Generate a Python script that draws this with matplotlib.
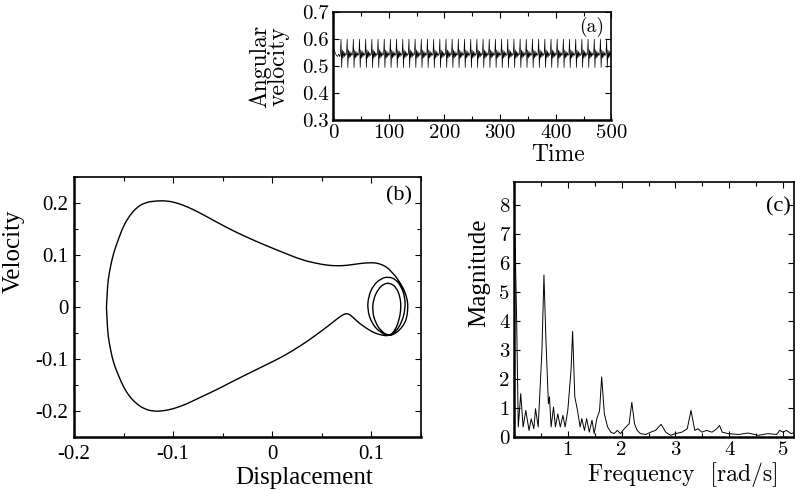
import numpy as np
import matplotlib
matplotlib.use("Agg")
import matplotlib.pyplot as plt
from matplotlib.path import Path
from matplotlib.patches import PathPatch
from matplotlib.ticker import MultipleLocator, FormatStrFormatter

plt.rcParams['axes.unicode_minus'] = False
plt.rcParams['font.family'] = ['Liberation Serif', 'DejaVu Serif']

# (a) angular velocity: start-up part, then one measured cycle repeated
transient_t = [0, 2, 4, 6, 8, 10, 12]
transient_v = [0.570, 0.560, 0.548, 0.540, 0.536, 0.545, 0.535]
cycle_dt = [0.0, 1.2, 2.4, 3.6, 4.8, 6.0, 7.2, 8.4, 9.6]
cycle_v = [0.545, 0.600, 0.495, 0.560, 0.530, 0.555, 0.535, 0.550, 0.540]
period = 11.1
n_cycles = 44

# (b) phase portrait, points read along the trajectory
disp = [-0.1672, -0.1665, -0.1655, -0.163, -0.160, -0.155, -0.150, -0.144, -0.137, -0.128, -0.117,
        -0.106, -0.096, -0.085, -0.073, -0.056, -0.039, -0.022, -0.005, 0.012,
        0.029, 0.044, 0.056, 0.066, 0.076, 0.086, 0.096, 0.104, 0.110, 0.116, 0.120, 0.124, 0.127, 0.131,
        0.134, 0.1365, 0.1368, 0.136, 0.134, 0.130, 0.125, 0.118,
        0.108, 0.100, 0.096, 0.097, 0.102, 0.110, 0.117, 0.124, 0.130, 0.134, 0.134, 0.131, 0.125, 0.118,
        0.110, 0.104, 0.101, 0.102, 0.107, 0.113, 0.119, 0.125, 0.129, 0.130, 0.128, 0.124, 0.118,
        0.110, 0.103, 0.095, 0.087, 0.081, 0.077, 0.073, 0.068, 0.062, 0.056, 0.049, 0.039, 0.029, 0.012, -0.005,
        -0.022, -0.039, -0.056, -0.073, -0.087, -0.100, -0.111, -0.120, -0.129, -0.137, -0.144, -0.150,
        -0.155, -0.160, -0.163, -0.1655, -0.1665, -0.1672]
vel = [0.000, 0.027, 0.053, 0.079, 0.104, 0.131, 0.156, 0.175, 0.191, 0.201, 0.204,
       0.204, 0.200, 0.192, 0.181, 0.163, 0.146, 0.131, 0.117, 0.104,
       0.091, 0.084, 0.080, 0.079, 0.080, 0.083, 0.085, 0.085, 0.082, 0.076, 0.068, 0.060, 0.052, 0.040,
       0.028, 0.012, -0.002, -0.017, -0.030, -0.041, -0.050, -0.056,
       -0.048, -0.030, -0.005, 0.020, 0.042, 0.055, 0.058, 0.054, 0.040, 0.018, -0.005, -0.028, -0.047, -0.056,
       -0.047, -0.030, -0.008, 0.015, 0.035, 0.045, 0.046, 0.038, 0.020, -0.002, -0.025, -0.045, -0.056,
       -0.054, -0.050, -0.041, -0.030, -0.019, -0.013, -0.013, -0.019, -0.028, -0.037, -0.047, -0.061, -0.074, -0.094, -0.110,
       -0.126, -0.142, -0.159, -0.174, -0.187, -0.196, -0.200, -0.2005, -0.196, -0.186, -0.172, -0.154,
       -0.132, -0.108, -0.083, -0.057, -0.029, 0.000]

# (c) spectrum
freq = [0.0, 0.02, 0.05, 0.08, 0.126, 0.17, 0.22, 0.28, 0.32, 0.37, 0.40, 0.45,
        0.52, 0.557, 0.595, 0.64, 0.66, 0.69, 0.735, 0.77, 0.815, 0.86, 0.91, 0.95, 1.0,
        1.06, 1.09, 1.13, 1.18, 1.23, 1.26, 1.31, 1.35, 1.40, 1.45, 1.49, 1.54,
        1.59, 1.63, 1.68, 1.74, 1.80, 1.86, 1.92, 1.98, 2.05, 2.14, 2.19, 2.24,
        2.29, 2.35, 2.45, 2.54, 2.63, 2.735, 2.82, 2.91, 3.0, 3.12, 3.22, 3.29, 3.36,
        3.42, 3.49, 3.58, 3.68, 3.77, 3.82, 3.87, 3.98, 4.17, 4.35, 4.54, 4.72, 4.88,
        4.94, 5.0, 5.06, 5.15, 5.2]
mag = [7.0, 6.9, 4.0, 0.35, 1.5, 0.35, 0.92, 0.23, 0.63, 0.29, 0.98, 0.35,
       3.0, 5.6, 3.3, 1.15, 1.39, 0.35, 1.04, 0.35, 0.8, 0.35, 0.75, 0.35, 0.92,
       2.3, 3.65, 1.4, 0.92, 0.35, 0.64, 0.23, 0.64, 0.17, 0.58, 0.12, 0.64,
       0.9, 2.08, 0.8, 0.35, 0.17, 0.12, 0.23, 0.12, 0.29, 0.46, 1.2, 0.46,
       0.23, 0.12, 0.09, 0.17, 0.23, 0.44, 0.17, 0.06, 0.12, 0.17, 0.29, 0.92, 0.23,
       0.29, 0.17, 0.23, 0.17, 0.29, 0.40, 0.17, 0.12, 0.09, 0.14, 0.06, 0.12, 0.09,
       0.23, 0.17, 0.23, 0.12, 0.15]

fig = plt.figure(figsize=(7.95, 4.9), dpi=100)

def style_axes(ax):
    ax.tick_params(which='both', direction='in', top=True, right=True, width=0.8)
    ax.tick_params(which='major', length=4)
    ax.tick_params(which='minor', length=3)
    for s in ['left', 'bottom']:
        ax.spines[s].set_linewidth(1.8)
    for s in ['top', 'right']:
        ax.spines[s].set_linewidth(1.2)

def smooth_path(xs, ys):
    # quadratic bezier through midpoints, read points used as control points
    pts = np.column_stack([xs, ys])
    verts = [pts[0]]
    codes = [Path.MOVETO]
    for i in range(1, len(pts) - 1):
        mid = (pts[i] + pts[i + 1]) / 2
        verts += [pts[i], mid]
        codes += [Path.CURVE3, Path.CURVE3]
    verts.append(pts[-1])
    codes.append(Path.LINETO)
    return Path(verts, codes)

# ---- (a)
ax1 = fig.add_axes([0.419, 0.755, 0.350, 0.220])
t = list(transient_t)
v = list(transient_v)
for k in range(n_cycles):
    for dt, val in zip(cycle_dt, cycle_v):
        tt = 13 + k * period + dt
        if tt <= 500:
            t.append(tt)
            v.append(val)
ax1.plot(t, v, color='black', lw=0.5)
ax1.set_xlim(0, 500)
ax1.set_ylim(0.3, 0.7)
ax1.xaxis.set_major_locator(MultipleLocator(100))
ax1.xaxis.set_minor_locator(MultipleLocator(50))
ax1.yaxis.set_major_locator(MultipleLocator(0.1))
ax1.yaxis.set_major_formatter(FormatStrFormatter('%.1f'))
style_axes(ax1)
ax1.tick_params(labelsize=15, labelfontfamily='cmr10', pad=3)
ax1.set_ylabel('Angular\nvelocity', family='cmr10', fontsize=17, linespacing=0.8)
ax1.yaxis.set_label_coords(-0.155, 0.5)
ax1.set_xlabel('Time', family='cmr10', fontsize=17)
ax1.xaxis.set_label_coords(0.81, -0.22)
ax1.text(0.975, 0.96, '(a)', transform=ax1.transAxes, ha='right', va='top', family='cmr10', fontsize=14)

# ---- (b)
ax2 = fig.add_axes([0.093, 0.108, 0.4365, 0.531])
ax2.add_patch(PathPatch(smooth_path(disp, vel), fill=False, edgecolor='black', lw=1.0))
ax2.set_xlim(-0.2, 0.15)
ax2.set_ylim(-0.25, 0.25)
ax2.xaxis.set_major_locator(MultipleLocator(0.1))
ax2.xaxis.set_minor_locator(MultipleLocator(0.05))
ax2.yaxis.set_major_locator(MultipleLocator(0.1))
ax2.yaxis.set_minor_locator(MultipleLocator(0.05))
ax2.xaxis.set_major_formatter(FormatStrFormatter('%g'))
ax2.yaxis.set_major_formatter(FormatStrFormatter('%g'))
style_axes(ax2)
ax2.tick_params(labelsize=15, pad=4)
ax2.tick_params(axis='x', pad=6)
ax2.set_xlabel('Displacement', fontsize=18)
ax2.xaxis.set_label_coords(0.663, -0.115)
ax2.set_ylabel('Velocity', fontsize=18)
ax2.yaxis.set_label_coords(-0.142, 0.715)
ax2.text(0.975, 0.965, '(b)', transform=ax2.transAxes, ha='right', va='top', fontsize=16)

# ---- (c)
ax3 = fig.add_axes([0.6465, 0.108, 0.352, 0.520])
ax3.plot(freq, mag, color='black', lw=0.7)
ax3.set_xlim(0, 5.2)
ax3.set_ylim(0, 8.8)
ax3.set_xticks([1, 2, 3, 4, 5])
ax3.xaxis.set_minor_locator(MultipleLocator(0.5))
ax3.yaxis.set_major_locator(MultipleLocator(1))
style_axes(ax3)
ax3.tick_params(labelsize=15, labelfontfamily='cmr10', pad=3)
ax3.set_xlabel('Frequency  [rad/s]', family='cmr10', fontsize=17)
ax3.xaxis.set_label_coords(0.604, -0.1)
ax3.set_ylabel('Magnitude', fontsize=18)
ax3.yaxis.set_label_coords(-0.086, 0.643)
ax3.text(0.99, 0.94, '(c)', transform=ax3.transAxes, ha='right', va='top', fontsize=16)

fig.savefig('out.png', dpi=100)
